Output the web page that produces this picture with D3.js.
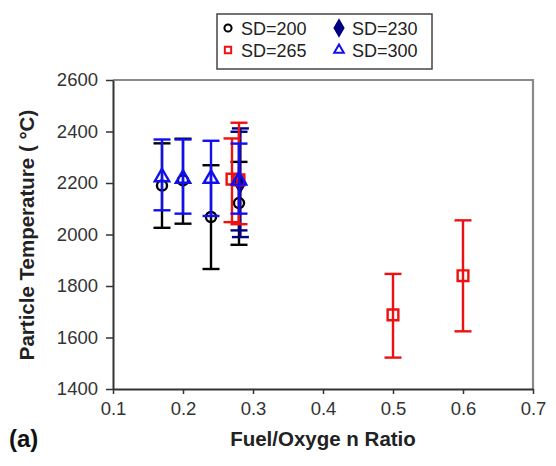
<!DOCTYPE html>
<html>
<head>
<meta charset="utf-8">
<script src="https://cdn.jsdelivr.net/npm/d3@7"></script>
<style>
  body { margin: 0; background: #fff; }
  text { font-family: "Liberation Sans", Arial, sans-serif; }
</style>
</head>
<body>
<svg id="chart" width="556" height="466"></svg>
<script>
// SD=200 (black open circles)
const x200 = [0.17, 0.20, 0.24, 0.28];
const y200 = [2190, 2210, 2068, 2122];
const lo200 = [2026, 2042, 1866, 1960];
const hi200 = [2354, 2372, 2269, 2282];

// SD=230 (navy diamonds)
const x230 = [0.28, 0.282];
const y230 = [2205, 2200];
const lo230 = [2016, 1990];
const hi230 = [2399, 2412];

// SD=265 (red open squares)
const x265 = [0.27, 0.28, 0.5, 0.6];
const y265 = [2215, 2212, 1688, 1840];
const lo265 = [2048, 2040, 1522, 1624];
const hi265 = [2373, 2434, 1847, 2055];

// SD=300 (blue open triangles)
const x300 = [0.17, 0.20, 0.24, 0.28];
const y300 = [2223, 2217, 2217, 2210];
const lo300 = [2094, 2081, 2072, 2081];
const hi300 = [2369, 2369, 2364, 2353];

const xTicks = [0.1, 0.2, 0.3, 0.4, 0.5, 0.6, 0.7];
const yTicks = [1400, 1600, 1800, 2000, 2200, 2400, 2600];

const margin = {left: 113, top: 80, right: 23, bottom: 77};
const width = 556 - margin.left - margin.right;
const height = 466 - margin.top - margin.bottom;

const svg = d3.select("#chart");

const xScale = d3.scaleLinear().domain([0.1, 0.7]).range([margin.left, margin.left + width]);
const yScale = d3.scaleLinear().domain([1400, 2600]).range([margin.top + height, margin.top]);

// grey frame on top and right
svg.append("path")
    .attr("d", "M" + margin.left + "," + margin.top + "H" + (margin.left + width) + "V" + (margin.top + height))
    .attr("fill", "none")
    .attr("stroke", "#8a8a8a")
    .attr("stroke-width", 2.2);

// axes
const xAxis = svg.append("g")
    .attr("transform", "translate(0," + (margin.top + height) + ")")
    .call(d3.axisBottom(xScale).tickValues(xTicks).tickFormat(d3.format(".1f")).tickSize(5).tickSizeOuter(0));
const yAxis = svg.append("g")
    .attr("transform", "translate(" + margin.left + ",0)")
    .call(d3.axisLeft(yScale).tickValues(yTicks).tickFormat(d => d).tickSize(7).tickSizeOuter(0));

[xAxis, yAxis].forEach(g => {
    g.select(".domain").attr("stroke", "#333").attr("stroke-width", 2);
    g.selectAll(".tick line").attr("stroke", "#333").attr("stroke-width", 1.5);
    g.selectAll(".tick text")
        .attr("fill", "#333")
        .style("font-size", "18.5px")
        .style("font-family", "'Liberation Sans', Arial, sans-serif");
});
xAxis.selectAll(".tick text").attr("dy", "0.98em");
yAxis.selectAll(".tick text").attr("x", -15);

// titles
svg.append("text")
    .attr("x", margin.left + width / 2)
    .attr("y", 446)
    .attr("text-anchor", "middle")
    .attr("font-weight", "bold")
    .style("font-size", "20.5px")
    .attr("fill", "#222")
    .text("Fuel/Oxyge n Ratio");

svg.append("text")
    .attr("transform", "translate(34," + 235 + ") rotate(-90)")
    .attr("text-anchor", "middle")
    .attr("font-weight", "bold")
    .style("font-size", "20.5px")
    .attr("fill", "#222")
    .text("Particle Temperature (  °C)");

svg.append("text")
    .attr("x", 9)
    .attr("y", 447)
    .attr("font-weight", "bold")
    .style("font-size", "24px")
    .attr("fill", "#111")
    .text("(a)");

// series
const series = [
    {xs: x200, ys: y200, lo: lo200, hi: hi200, color: "#000", shape: "circle"},
    {xs: x230, ys: y230, lo: lo230, hi: hi230, color: "#000080", shape: "diamond"},
    {xs: x265, ys: y265, lo: lo265, hi: hi265, color: "#ee1111", shape: "square"},
    {xs: x300, ys: y300, lo: lo300, hi: hi300, color: "#1010ee", shape: "triangle"}
];

const symbolType = {circle: d3.symbolCircle, diamond: d3.symbolDiamond, square: d3.symbolSquare, triangle: d3.symbolTriangle};
const symbolSize = {circle: 80, diamond: 80, square: 115, triangle: 90};

const cap = 8.5;
series.forEach(s => {
    const rows = s.xs.map((x, i) => ({x: x, y: s.ys[i], lo: s.lo[i], hi: s.hi[i]}));
    const g = svg.append("g");
    const eb = g.selectAll(".eb").data(rows).enter().append("g")
        .attr("stroke", s.color)
        .attr("stroke-width", 2.4)
        .attr("fill", "none");
    eb.append("line")
        .attr("x1", d => xScale(d.x)).attr("x2", d => xScale(d.x))
        .attr("y1", d => yScale(d.lo)).attr("y2", d => yScale(d.hi));
    eb.append("line")
        .attr("x1", d => xScale(d.x) - cap).attr("x2", d => xScale(d.x) + cap)
        .attr("y1", d => yScale(d.lo)).attr("y2", d => yScale(d.lo));
    eb.append("line")
        .attr("x1", d => xScale(d.x) - cap).attr("x2", d => xScale(d.x) + cap)
        .attr("y1", d => yScale(d.hi)).attr("y2", d => yScale(d.hi));

    g.selectAll(".pt").data(rows).enter().append("path")
        .attr("d", d3.symbol().type(symbolType[s.shape]).size(symbolSize[s.shape]))
        .attr("transform", d => "translate(" + xScale(d.x) + "," + yScale(d.y) + ")")
        .attr("fill", s.shape === "diamond" ? s.color : "none")
        .attr("stroke", s.color)
        .attr("stroke-width", 2.4);
});

// legend
const legendNames = ["SD=200", "SD=230", "SD=265", "SD=300"];
const legend = svg.append("g");
legend.append("rect")
    .attr("x", 217).attr("y", 14).attr("width", 215).attr("height", 55)
    .attr("fill", "#fff").attr("stroke", "#444").attr("stroke-width", 1.5);
legendNames.forEach((name, i) => {
    const s = series[i];
    const lx = 228 + (i % 2) * 111;
    const ly = 28 + Math.floor(i / 2) * 22;
    legend.append("path")
        .attr("d", d3.symbol().type(symbolType[s.shape]).size(s.shape === "diamond" ? 70 : 40))
        .attr("transform", "translate(" + lx + "," + ly + ")")
        .attr("fill", s.shape === "diamond" ? s.color : "none")
        .attr("stroke", s.color)
        .attr("stroke-width", 2);
    legend.append("text")
        .attr("x", lx + 13)
        .attr("y", ly + 6.5)
        .style("font-size", "18px")
        .attr("fill", "#222")
        .text(name);
});
</script>
</body>
</html>
